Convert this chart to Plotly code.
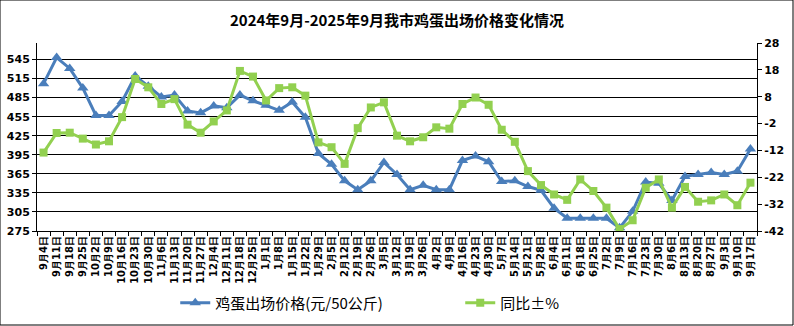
import plotly.graph_objects as go

dates = ["9月4日","9月11日","9月18日","9月25日","10月2日","10月9日","10月16日","10月23日","10月30日",
         "11月6日","11月13日","11月20日","11月27日","12月4日","12月11日","12月18日","12月25日",
         "1月1日","1月8日","1月15日","1月22日","1月29日","2月5日","2月12日","2月19日","2月26日",
         "3月5日","3月12日","3月19日","3月26日","4月2日","4月9日","4月16日","4月23日","4月30日",
         "5月7日","5月14日","5月21日","5月28日","6月4日","6月11日","6月18日","6月25日",
         "7月2日","7月9日","7月16日","7月23日","7月30日","8月6日","8月13日","8月20日","8月27日",
         "9月3日","9月10日","9月17日"]

price = [507, 548, 531, 500, 457, 457, 479, 519, 503, 486, 489, 464, 461, 472,
         469, 489, 480, 473, 465, 478, 454, 397, 380, 354, 340, 354, 383, 364,
         340, 347, 340, 340, 386, 393, 384, 353, 354, 345, 339, 311, 295, 295,
         295, 295, 280, 306, 352, 350, 323, 361, 364, 367, 364, 369, 404]

yoy = [-12.8, -5.5, -5.4, -7.6, -9.8, -8.6, 0.4, 14.6, 11.5, 5.3, 7.1, -2.4, -5.4, -1.2,
       2.9, 17.6, 15.5, 6.6, 11.2, 11.5, 8.4, -9.0, -10.8, -17.0, -3.7, 4.0, 5.9, -6.5,
       -8.6, -7.1, -3.4, -3.9, 5.3, 7.7, 5.0, -4.3, -8.8, -19.7, -24.9, -28.4, -30.4, -22.8,
       -27.1, -33.3, -41.3, -38.0, -25.9, -22.8, -33.3, -25.6, -31.1, -30.6, -28.4, -32.4, -24.0]

left_ticks = [275, 305, 335, 365, 395, 425, 455, 485, 515, 545]
right_ticks = [-42, -32, -22, -12, -2, 8, 18, 28]

BLUE = "#4A7EBB"
GREEN = "#92D050"
tickfont = dict(family="DejaVu Sans", size=11, color="black")

fig = go.Figure()
fig.add_trace(go.Scatter(
    x=dates, y=price, name="鸡蛋出场价格(元/50公斤)", mode="lines+markers",
    line=dict(color=BLUE, width=3),
    marker=dict(symbol="triangle-up", size=10, color=BLUE),
    yaxis="y"))
fig.add_trace(go.Scatter(
    x=dates, y=yoy, name="同比±%", mode="lines+markers",
    line=dict(color=GREEN, width=3),
    marker=dict(symbol="square", size=8, color=GREEN),
    yaxis="y2"))

fig.update_layout(
    width=794, height=326,
    margin=dict(l=37, r=37, t=43, b=95),
    paper_bgcolor="white", plot_bgcolor="white",
    title=dict(text="<b>2024年9月-2025年9月我市鸡蛋出场价格变化情况</b>",
               x=0.5, xanchor="center", y=0.935, yanchor="middle",
               font=dict(family="Noto Sans CJK SC", size=15, color="black")),
    xaxis=dict(type="category", range=[-0.5, 54.5], tickangle=-90, automargin=False,
               showline=True, linecolor="black", linewidth=1,
               ticks="outside", tickson="boundaries", ticklen=4, tickcolor="black",
               showgrid=False, zeroline=False,
               tickfont=dict(family="DejaVu Sans", size=10, color="black")),
    yaxis=dict(range=[275, 571], tickvals=left_ticks, ticktext=[f"<b>{v}</b>" for v in left_ticks],
               automargin=False,
               showline=True, linecolor="black", linewidth=1,
               ticks="outside", ticklen=4, tickcolor="black",
               showgrid=True, gridcolor="black", gridwidth=1, zeroline=False,
               tickfont=tickfont),
    yaxis2=dict(range=[-42, 28], tickvals=right_ticks, ticktext=[f"<b>{v}</b>" for v in right_ticks],
                overlaying="y", side="right", automargin=False,
                showline=True, linecolor="black", linewidth=1,
                ticks="outside", ticklen=4, tickcolor="black",
                showgrid=False, zeroline=False, tickfont=tickfont),
    legend=dict(orientation="h", x=0.192, xanchor="left",
                yref="container", y=1 - 303/326, yanchor="middle",
                entrywidth=240, entrywidthmode="pixels",
                font=dict(family="Noto Sans CJK SC", size=15, color="black"),
                bgcolor="rgba(0,0,0,0)"),
    showlegend=True,
    shapes=[dict(type="rect", xref="paper", yref="paper",
                 x0=-37/720, x1=756/720, y0=-94/188, y1=231/188,
                 line=dict(color="black", width=1), fillcolor="rgba(0,0,0,0)", layer="below")],
)
fig.update_xaxes(tickvals=dates, ticktext=[f"<b>{d}</b>" for d in dates])

fig.write_html("out.html")
